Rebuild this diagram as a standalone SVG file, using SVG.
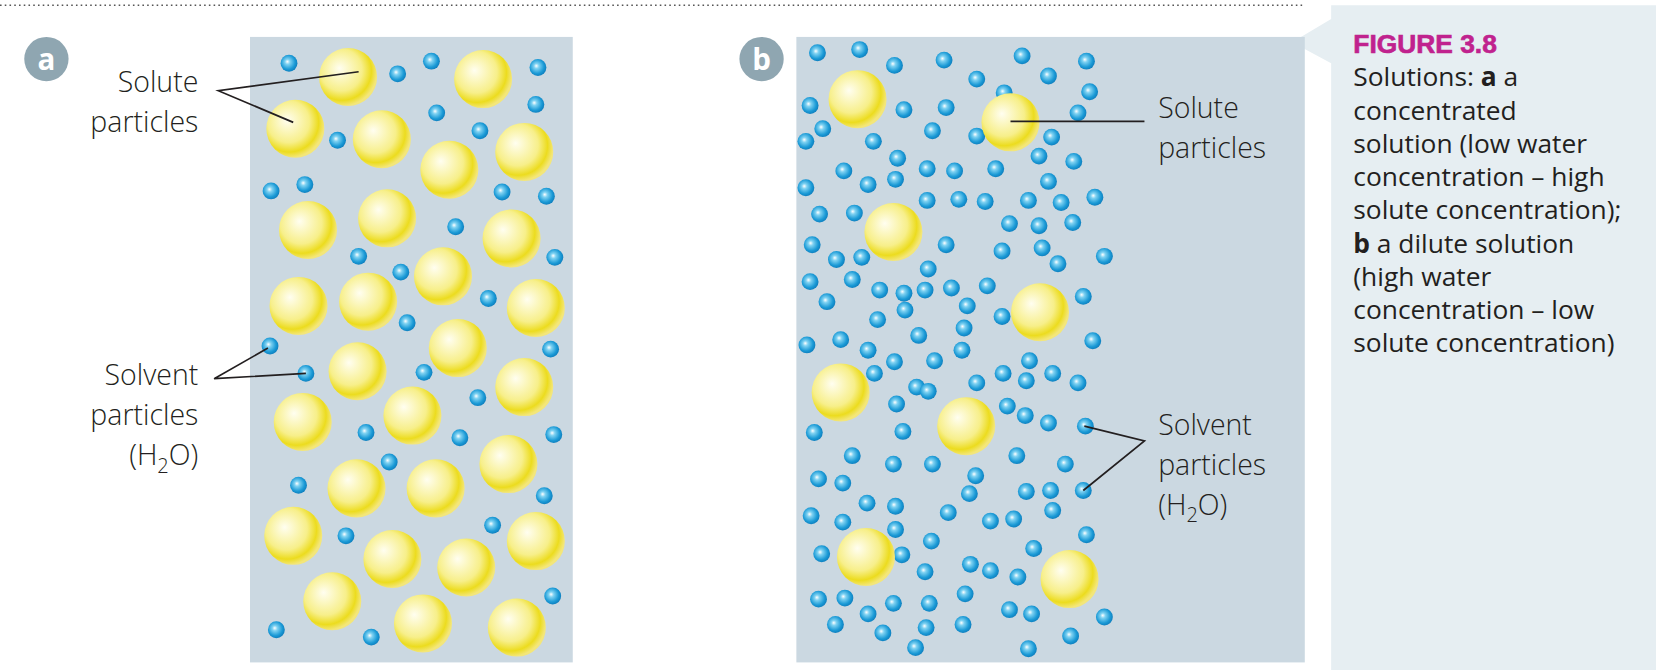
<svg xmlns="http://www.w3.org/2000/svg" width="1656" height="670" viewBox="0 0 1656 670">
<defs>
<radialGradient id="gs" cx="0.4" cy="0.4" r="0.6" fx="0.35" fy="0.35">
<stop offset="0" stop-color="#fffef0"/><stop offset="0.6" stop-color="#f7ef8a"/><stop offset="0.85" stop-color="#ecdc1e"/><stop offset="1" stop-color="#f3e67a"/>
</radialGradient>
<radialGradient id="gw" cx="0.45" cy="0.45" r="0.6" fx="0.4" fy="0.4">
<stop offset="0" stop-color="#ffffff"/><stop offset="0.25" stop-color="#7fd2f2"/><stop offset="0.7" stop-color="#1b9ad6"/><stop offset="1" stop-color="#0b78b8"/>
</radialGradient>
<circle id="S" r="27.5" fill="url(#gs)"/>
<circle id="W" r="8" fill="url(#gw)"/>
</defs>
<style>
text{font-family:"Open Sans","Noto Sans","Liberation Sans",sans-serif;fill:#231f20}
.lb{font-size:27px;font-weight:300}
.cap{font-size:25px}
.ln{stroke:#231f20;stroke-width:1.6;fill:none}
.badge{fill:#8fa6b1}
.bt{font-size:28px;font-weight:bold;fill:#fff;text-anchor:middle}
</style>
<g transform="scale(1.0548)">
<line x1="0" y1="5" x2="1237" y2="5" stroke="#555" stroke-width="1.5" stroke-dasharray="1.5 3"/>
<g id="caption">
<path d="M1262 5 H1575 V640 H1262 V60 L1225 40 L1262 18 Z" fill="#e6eef2"/>
<text x="1283" y="50" style="font-family:'Liberation Sans',sans-serif;font-weight:bold;font-size:25px;fill:#c0228e;stroke:#c0228e;stroke-width:0.6">FIGURE 3.8</text>
<text class="cap" x="1283" y="82">Solutions: <tspan font-weight="bold">a</tspan> a</text>
<text class="cap" x="1283" y="113.5">concentrated</text>
<text class="cap" x="1283" y="145">solution (low water</text>
<text class="cap" x="1283" y="176.5">concentration – high</text>
<text class="cap" x="1283" y="208">solute concentration);</text>
<text class="cap" x="1283" y="239.5"><tspan font-weight="bold">b</tspan> a dilute solution</text>
<text class="cap" x="1283" y="271">(high water</text>
<text class="cap" x="1283" y="302.5">concentration – low</text>
<text class="cap" x="1283" y="334">solute concentration)</text>
</g>
<g id="panel-a">
<rect x="237" y="35" width="306" height="593" fill="#cbd8e1"/>
<g id="a-solute">
<use href="#S" x="330" y="73"/><use href="#S" x="458" y="75"/><use href="#S" x="280" y="122"/><use href="#S" x="362" y="132"/><use href="#S" x="497" y="144"/><use href="#S" x="426" y="161"/><use href="#S" x="292" y="218"/><use href="#S" x="367" y="207"/><use href="#S" x="485" y="226"/><use href="#S" x="420" y="262"/><use href="#S" x="283" y="290"/><use href="#S" x="349" y="286"/><use href="#S" x="508" y="292"/><use href="#S" x="434" y="330"/><use href="#S" x="339" y="352"/><use href="#S" x="497" y="367"/><use href="#S" x="287" y="400"/><use href="#S" x="391" y="394"/><use href="#S" x="482" y="440"/><use href="#S" x="338" y="463"/><use href="#S" x="413" y="463"/><use href="#S" x="278" y="508"/><use href="#S" x="508" y="513"/><use href="#S" x="372" y="530"/><use href="#S" x="442" y="538"/><use href="#S" x="315" y="570"/><use href="#S" x="401" y="591"/><use href="#S" x="490" y="595"/>
</g>
<g id="a-solvent">
<use href="#W" x="274" y="60"/><use href="#W" x="377" y="70"/><use href="#W" x="409" y="58"/><use href="#W" x="510" y="64"/><use href="#W" x="414" y="107"/><use href="#W" x="508" y="99"/><use href="#W" x="455" y="124"/><use href="#W" x="320" y="133"/><use href="#W" x="257" y="181"/><use href="#W" x="289" y="175"/><use href="#W" x="476" y="182"/><use href="#W" x="518" y="186"/><use href="#W" x="432" y="215"/><use href="#W" x="340" y="243"/><use href="#W" x="380" y="258"/><use href="#W" x="463" y="283"/><use href="#W" x="526" y="244"/><use href="#W" x="386" y="306"/><use href="#W" x="256" y="328"/><use href="#W" x="290" y="354"/><use href="#W" x="402" y="353"/><use href="#W" x="453" y="377"/><use href="#W" x="522" y="331"/><use href="#W" x="347" y="410"/><use href="#W" x="436" y="415"/><use href="#W" x="369" y="438"/><use href="#W" x="525" y="412"/><use href="#W" x="283" y="460"/><use href="#W" x="516" y="470"/><use href="#W" x="467" y="498"/><use href="#W" x="328" y="508"/><use href="#W" x="524" y="565"/><use href="#W" x="262" y="597"/><use href="#W" x="352" y="604"/>
</g>
<circle class="badge" cx="44" cy="56" r="21"/><text class="bt" x="44" y="66">a</text>
</g>
<g id="panel-b">
<rect x="755" y="35" width="482" height="593" fill="#cbd8e1"/>
<g id="b-solvent">
<use href="#W" x="775" y="50"/><use href="#W" x="815" y="47"/><use href="#W" x="848" y="62"/><use href="#W" x="895" y="57"/><use href="#W" x="969" y="53"/><use href="#W" x="1030" y="58"/>
<use href="#W" x="926" y="75"/><use href="#W" x="994" y="72"/><use href="#W" x="952" y="88"/><use href="#W" x="1033" y="87"/><use href="#W" x="768" y="100"/><use href="#W" x="857" y="104"/><use href="#W" x="897" y="102"/><use href="#W" x="1022" y="107"/>
<use href="#W" x="780" y="122"/><use href="#W" x="764" y="134"/><use href="#W" x="828" y="134"/><use href="#W" x="884" y="124"/><use href="#W" x="926" y="129"/><use href="#W" x="997" y="130"/>
<use href="#W" x="851" y="150"/><use href="#W" x="800" y="162"/><use href="#W" x="879" y="160"/><use href="#W" x="905" y="162"/><use href="#W" x="944" y="160"/><use href="#W" x="985" y="148"/><use href="#W" x="1018" y="153"/><use href="#W" x="764" y="178"/><use href="#W" x="823" y="175"/><use href="#W" x="849" y="170"/><use href="#W" x="994" y="172"/>
<use href="#W" x="879" y="190"/><use href="#W" x="909" y="189"/><use href="#W" x="934" y="191"/><use href="#W" x="975" y="190"/><use href="#W" x="1006" y="192"/><use href="#W" x="1038" y="187"/><use href="#W" x="777" y="203"/><use href="#W" x="810" y="202"/><use href="#W" x="957" y="212"/><use href="#W" x="985" y="214"/><use href="#W" x="1017" y="211"/>
<use href="#W" x="770" y="232"/><use href="#W" x="897" y="232"/><use href="#W" x="950" y="238"/><use href="#W" x="988" y="235"/><use href="#W" x="1047" y="243"/><use href="#W" x="793" y="246"/><use href="#W" x="817" y="244"/><use href="#W" x="880" y="255"/><use href="#W" x="1003" y="250"/>
<use href="#W" x="768" y="267"/><use href="#W" x="808" y="265"/><use href="#W" x="834" y="275"/><use href="#W" x="857" y="278"/><use href="#W" x="877" y="275"/><use href="#W" x="902" y="273"/><use href="#W" x="936" y="271"/><use href="#W" x="1027" y="281"/><use href="#W" x="784" y="286"/>
<use href="#W" x="858" y="294"/><use href="#W" x="917" y="290"/><use href="#W" x="950" y="300"/><use href="#W" x="832" y="303"/><use href="#W" x="871" y="318"/><use href="#W" x="914" y="311"/><use href="#W" x="797" y="322"/><use href="#W" x="765" y="327"/><use href="#W" x="823" y="332"/><use href="#W" x="886" y="342"/><use href="#W" x="912" y="332"/><use href="#W" x="1036" y="323"/>
<use href="#W" x="848" y="343"/><use href="#W" x="829" y="354"/><use href="#W" x="951" y="354"/><use href="#W" x="976" y="342"/><use href="#W" x="998" y="354"/><use href="#W" x="869" y="367"/><use href="#W" x="926" y="363"/><use href="#W" x="973" y="361"/><use href="#W" x="1022" y="363"/>
<use href="#W" x="850" y="383"/><use href="#W" x="880" y="371"/><use href="#W" x="955" y="385"/><use href="#W" x="972" y="394"/><use href="#W" x="994" y="401"/><use href="#W" x="772" y="410"/><use href="#W" x="856" y="409"/><use href="#W" x="1029" y="404"/>
<use href="#W" x="808" y="432"/><use href="#W" x="847" y="440"/><use href="#W" x="884" y="440"/><use href="#W" x="964" y="432"/><use href="#W" x="1010" y="440"/><use href="#W" x="776" y="454"/><use href="#W" x="799" y="458"/><use href="#W" x="925" y="451"/><use href="#W" x="919" y="468"/><use href="#W" x="973" y="466"/><use href="#W" x="996" y="465"/><use href="#W" x="1027" y="465"/>
<use href="#W" x="822" y="477"/><use href="#W" x="849" y="480"/><use href="#W" x="899" y="486"/><use href="#W" x="939" y="494"/><use href="#W" x="961" y="492"/><use href="#W" x="998" y="484"/><use href="#W" x="769" y="489"/><use href="#W" x="799" y="495"/><use href="#W" x="849" y="502"/>
<use href="#W" x="883" y="513"/><use href="#W" x="980" y="520"/><use href="#W" x="1030" y="507"/><use href="#W" x="779" y="525"/><use href="#W" x="877" y="542"/><use href="#W" x="920" y="535"/><use href="#W" x="939" y="541"/><use href="#W" x="965" y="547"/><use href="#W" x="855" y="526"/>
<use href="#W" x="776" y="568"/><use href="#W" x="801" y="567"/><use href="#W" x="823" y="582"/><use href="#W" x="847" y="572"/><use href="#W" x="881" y="572"/><use href="#W" x="915" y="563"/><use href="#W" x="957" y="578"/><use href="#W" x="978" y="582"/><use href="#W" x="1047" y="585"/><use href="#W" x="792" y="592"/><use href="#W" x="837" y="600"/><use href="#W" x="878" y="595"/><use href="#W" x="913" y="592"/><use href="#W" x="1015" y="603"/><use href="#W" x="868" y="614"/><use href="#W" x="975" y="615"/>
</g>
<g id="b-solute">
<use href="#S" x="813" y="94"/><use href="#S" x="958" y="116"/><use href="#S" x="847" y="220"/><use href="#S" x="986" y="296"/><use href="#S" x="797" y="372"/><use href="#S" x="916" y="404"/><use href="#S" x="821" y="528"/><use href="#S" x="1014" y="549"/>
</g>
<circle class="badge" cx="722" cy="56" r="21"/><text class="bt" x="722" y="66">b</text>
</g>
<g id="labels-a">
<text class="lb" x="188" y="87" text-anchor="end">Solute</text>
<text class="lb" x="188" y="125" text-anchor="end">particles</text>
<text class="lb" x="188" y="365" text-anchor="end">Solvent</text>
<text class="lb" x="188" y="403" text-anchor="end">particles</text>
<text class="lb" x="188" y="441" text-anchor="end">(H<tspan font-size="19" dy="7">2</tspan><tspan dy="-7">O)</tspan></text>
</g>
<g id="labels-b">
<text class="lb" x="1098" y="112">Solute</text>
<text class="lb" x="1098" y="150">particles</text>
<text class="lb" x="1098" y="412">Solvent</text>
<text class="lb" x="1098" y="450">particles</text>
<text class="lb" x="1098" y="488">(H<tspan font-size="19" dy="7">2</tspan><tspan dy="-7">O)</tspan></text>
</g>
<g id="connectors">
<path class="ln" d="M340 68 L207 86 L278 116"/>
<path class="ln" d="M254 330 L203 359 L290 354"/>
<path class="ln" d="M958 115 H1085"/>
<path class="ln" d="M1028 404 L1085 418 L1027 465"/>
</g>
</g>
</svg>
